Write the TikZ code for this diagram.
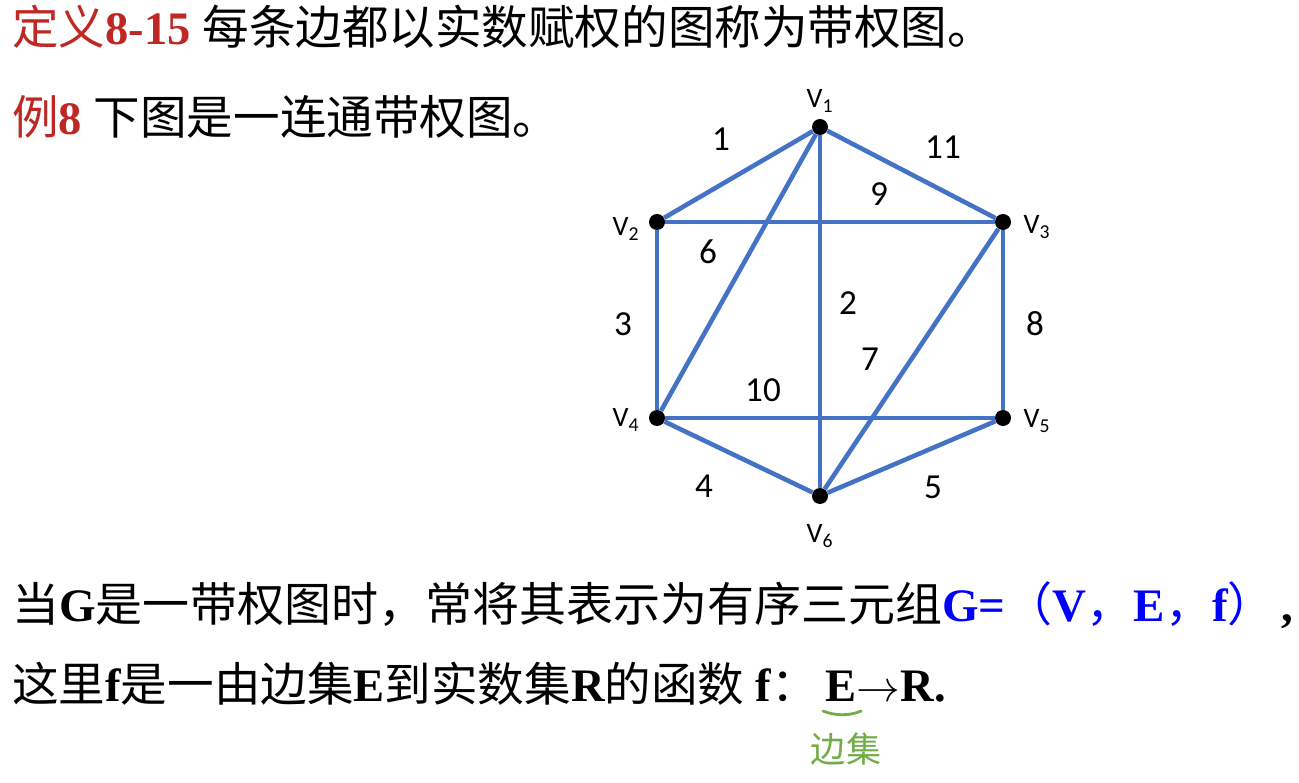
\documentclass[tikz,border=0pt]{standalone}
\usepackage{fontspec}
\setmainfont{Liberation Serif}
\newfontfamily\cjk{Noto Sans CJK SC}
\newfontfamily\lbl{Carlito}
\definecolor{defred}{RGB}{190,40,36}
\definecolor{edgeblue}{RGB}{68,114,196}
\definecolor{tupleblue}{RGB}{0,0,255}
\definecolor{notegreen}{RGB}{112,173,71}
\newcommand{\zh}[1]{{\cjk\mdseries #1}}

\begin{document}
\begin{tikzpicture}[
x=0.02cm, y=-0.02cm, % 1 unit = 1 pixel of the slide
vtx/.style={circle, fill=black, inner sep=0pt, minimum size=0.32cm},
vlabel/.style={font=\lbl\fontsize{16}{16}\selectfont},
wlabel/.style={font=\lbl\fontsize{20}{20}\selectfont},
edge/.style={draw=edgeblue, line width=2.6pt},
textline/.style={anchor=base west, inner sep=0pt, font=\fontsize{26.5}{30}\selectfont\bfseries},
textlinewide/.style={anchor=base west, inner sep=0pt, font=\fontsize{26.5}{30}\selectfont\bfseries}
]
\useasboundingbox (0,0) rectangle (1299,783);

% --- Định nghĩa và ví dụ ---
\node[textline] (def) at (12,45) {\textcolor{defred}{\zh{定义}8-15} \zh{每条边都以实数赋权的图称为带权图。}};
\node[textline] (ex) at (12,135) {\textcolor{defred}{\zh{例}8} \zh{下图是一连通带权图。}};

% --- Các đỉnh ---
\node[vtx] (v1) at (820,127) {};
\node[vtx] (v2) at (657,222) {};
\node[vtx] (v3) at (1003,222) {};
\node[vtx] (v4) at (657,418) {};
\node[vtx] (v5) at (1003,418) {};
\node[vtx] (v6) at (820,496) {};

\node[vlabel] (l1) at (820,101) {V\textsubscript{1}};
\node[vlabel] (l2) at (626,229) {V\textsubscript{2}};
\node[vlabel] (l3) at (1037,227) {V\textsubscript{3}};
\node[vlabel] (l4) at (626,420) {V\textsubscript{4}};
\node[vlabel] (l5) at (1037,421) {V\textsubscript{5}};
\node[vlabel] (l6) at (820,536) {V\textsubscript{6}};

% --- Các cạnh có trọng số ---
\draw[edge] (v1) -- (v2);
\draw[edge] (v1) -- (v3);
\draw[edge] (v2) -- (v3);
\draw[edge] (v1) -- (v4);
\draw[edge] (v2) -- (v4);
\draw[edge] (v1) -- (v6);
\draw[edge] (v3) -- (v5);
\draw[edge] (v3) -- (v6);
\draw[edge] (v4) -- (v5);
\draw[edge] (v4) -- (v6);
\draw[edge] (v5) -- (v6);

\node[wlabel] (w1) at (721,139) {1};
\node[wlabel] (w11) at (943,147) {11};
\node[wlabel] (w9) at (879,194) {9};
\node[wlabel] (w6) at (708,252) {6};
\node[wlabel] (w3) at (623,324) {3};
\node[wlabel] (w2) at (848,303) {2};
\node[wlabel] (w8) at (1035,324) {8};
\node[wlabel] (w7) at (870,359) {7};
\node[wlabel] (w10) at (763,390) {10};
\node[wlabel] (w4) at (704,486) {4};
\node[wlabel] (w5) at (933,487) {5};

% --- Bộ ba G=(V,E,f) ---
\node[textlinewide] (tuple) at (12,622) {\scalebox{1.01}[1]{\zh{当}G\zh{是一带权图时，常将其表示为有序三元组}\textcolor{tupleblue}{G=\zh{（}V\zh{，}E\zh{，}f\zh{）}}\hspace{0.15em},}};
\node[textlinewide] (func) at (12,702) {\zh{这里}f\zh{是一由边集}E\zh{到实数集}R\zh{的函数} f\zh{：}\,E$\rightarrow$R.};

% ghi chú viết tay
\draw[notegreen, line width=1.6pt, line cap=round] (823,711) .. controls (835,716) and (850,716) .. (861,711);
\node[text=notegreen, font=\cjk\fontsize{20}{20}\selectfont] (note) at (846,749) {边集};

\end{tikzpicture}
\end{document}
